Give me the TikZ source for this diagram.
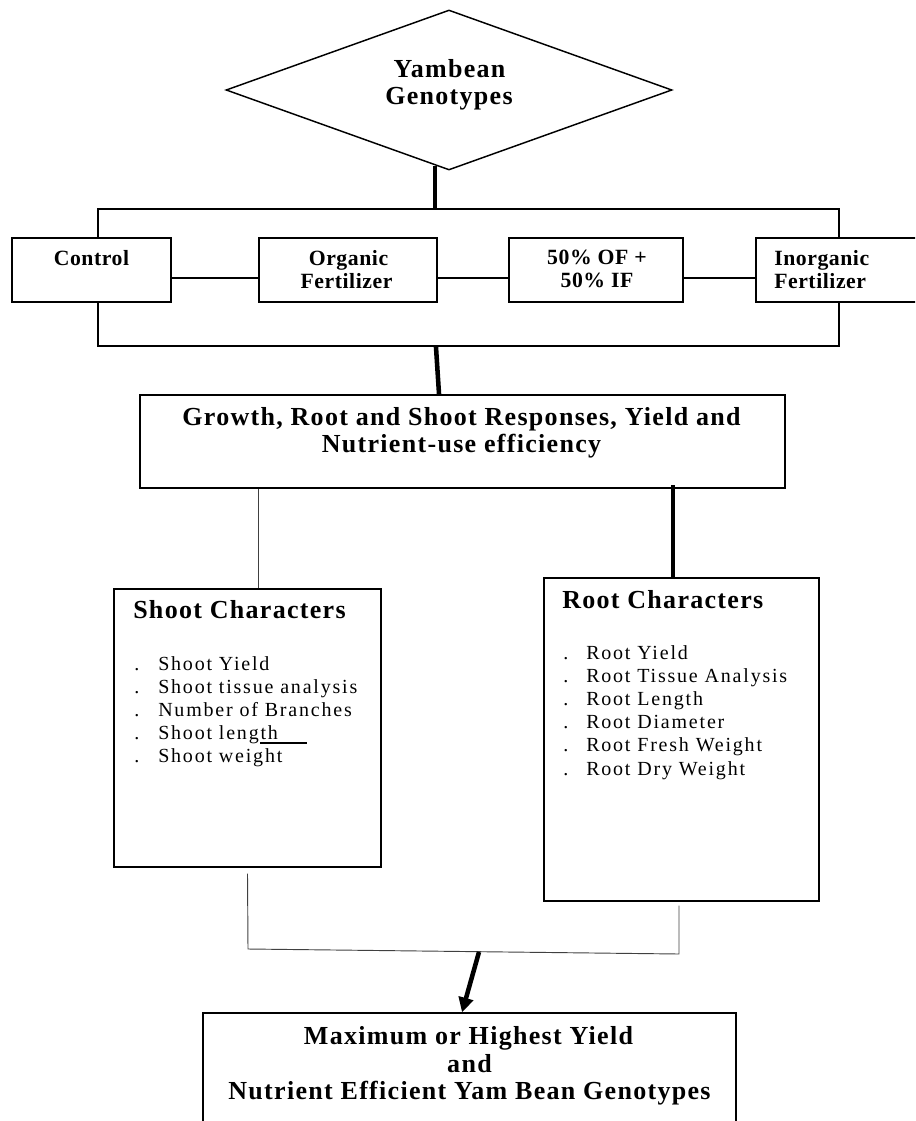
\documentclass[tikz,border=0pt]{standalone}
\usepackage{fontspec}
\setmainfont{Liberation Serif}
\newfontfamily\fB{Liberation Serif}[LetterSpace=5]
\newfontfamily\fF{Liberation Serif}[LetterSpace=2.5]
\newfontfamily\fL{Liberation Serif}[LetterSpace=9]
\usetikzlibrary{shapes.geometric,fit,arrows.meta}
\begin{document}
\begin{tikzpicture}[x=0.75pt,y=-0.75pt,
  box/.style={draw, line width=1.1pt, inner sep=0pt, fill=white},
  bt/.style={inner sep=0pt, anchor=base, font=\fB\bfseries\fontsize{19.5}{21}\selectfont},
  ft/.style={inner sep=0pt, anchor=base, font=\fF\bfseries\fontsize{16.3}{17}\selectfont},
  ftw/.style={ft, anchor=base west},
  btw/.style={bt, anchor=base west},
  lt/.style={inner sep=0pt, anchor=base west, font=\fL\fontsize{15}{17}\selectfont},
  thk/.style={line width=3.4pt},
  cn/.style={line width=1pt},
  thn/.style={line width=0.7pt, black!75}]
\useasboundingbox (0,0) rectangle (915,1121);
\clip (0,0) rectangle (915,1121);

% diamond
\node[draw, line width=1.1pt, diamond, inner sep=0pt, minimum width=334.5pt, minimum height=120pt] (dia) at (449,90) {};
\node[bt] (ya) at (449.5,77) {Yambean};
\node[bt] (ge) at (449,104) {Genotypes};

% treatment frame
\node[draw, line width=1.1pt, inner sep=0pt, fit={(98,209) (839,346)}] (outer) {};
\node[box, fit={(12,238) (171,302)}] (control) {};
\node[box, fit={(259,238) (437,302)}] (organic) {};
\node[box, fit={(509,238) (683,302)}] (mix) {};
\node[box, fit={(756,238) (918,302)}] (inorg) {};
\node[ft] (t1) at (91.5,265) {Control};
\node[ft] (t2) at (348.5,265) {Organic};
\node[ft] (t3) at (346.5,288) {Fertilizer};
\node[ft] (t4) at (597,264) {50\% OF +};
\node[ft] (t5) at (597,287) {50\% IF};
\node[ftw] (t6) at (774,265) {Inorganic};
\node[ftw] (t7) at (774,288) {Fertilizer};

% growth box
\node[box, fit={(140,395) (785,488)}] (growth) {};
\node[bt] (g1) at (461.5,425) {Growth, Root and Shoot Responses, Yield and};
\node[bt] (g2) at (461.5,452) {Nutrient-use efficiency};

% shoot box
\node[box, fit={(114,589) (381,867)}] (shoot) {};
\node[btw] (sh) at (133,618) {Shoot Characters};
\foreach \t [count=\i from 0] in {Shoot Yield, Shoot tissue analysis, Number of Branches, Shoot length, Shoot weight} {
  \node[lt] (sd\i) at (134,670+23.2*\i) {.};
  \node[lt] (si\i) at (158,670+23.2*\i) {\t};
}
\draw[line width=0.8pt] (260,743) -- (307,743);

% root box
\node[box, fit={(544,578) (819,901)}] (root) {};
\node[btw] (rh) at (562,608) {Root Characters};
\foreach \t [count=\i from 0] in {Root Yield, Root Tissue Analysis, Root Length, Root Diameter, Root Fresh Weight, Root Dry Weight} {
  \node[lt] (rd\i) at (563,659+23.2*\i) {.};
  \node[lt] (ri\i) at (586,659+23.2*\i) {\t};
}

% final box
\node[box, fit={(203,1013) (736,1135)}] (final) {};
\node[bt] (f1) at (468.5,1044) {Maximum or Highest Yield};
\node[bt] (f2) at (469.5,1072) {and};
\node[bt] (f3) at (469.5,1099) {Nutrient Efficient Yam Bean Genotypes};

% connectors
\coordinate (c1) at ([shift={(-14,-5)}]dia.south);
\draw[thk] (c1) -- (c1 |- outer.north);
\draw[cn] ([yshift=-6pt]control.east) -- ([yshift=-6pt]organic.west);
\draw[cn] ([yshift=-6pt]organic.east) -- ([yshift=-6pt]mix.west);
\draw[cn] ([yshift=-6pt]mix.east) -- ([yshift=-6pt]inorg.west);
\draw[thk] ([xshift=-24.4pt]outer.south) -- ([xshift=-17.6pt]growth.north);
\coordinate (c2) at ([xshift=7.9pt]shoot.north);
\draw[thn] (c2) -- (c2 |- growth.south);
\coordinate (c3) at ([xshift=-6.4pt]root.north);
\draw[thk] (c3) -- ([yshift=3pt]c3 |- growth.south);
\coordinate (jl) at (248,949);
\coordinate (jr) at (679,954);
\draw[thn] ([yshift=-4.5pt]shoot.south) -- (jl) -- (jr) -- ([shift={(-2.5,4)}]root.south);
\coordinate (ja) at (479,952);
\draw[thk, -{Triangle[length=11pt,width=11pt]}] (ja) -- ([xshift=-5.6pt]final.north);
\end{tikzpicture}
\end{document}
